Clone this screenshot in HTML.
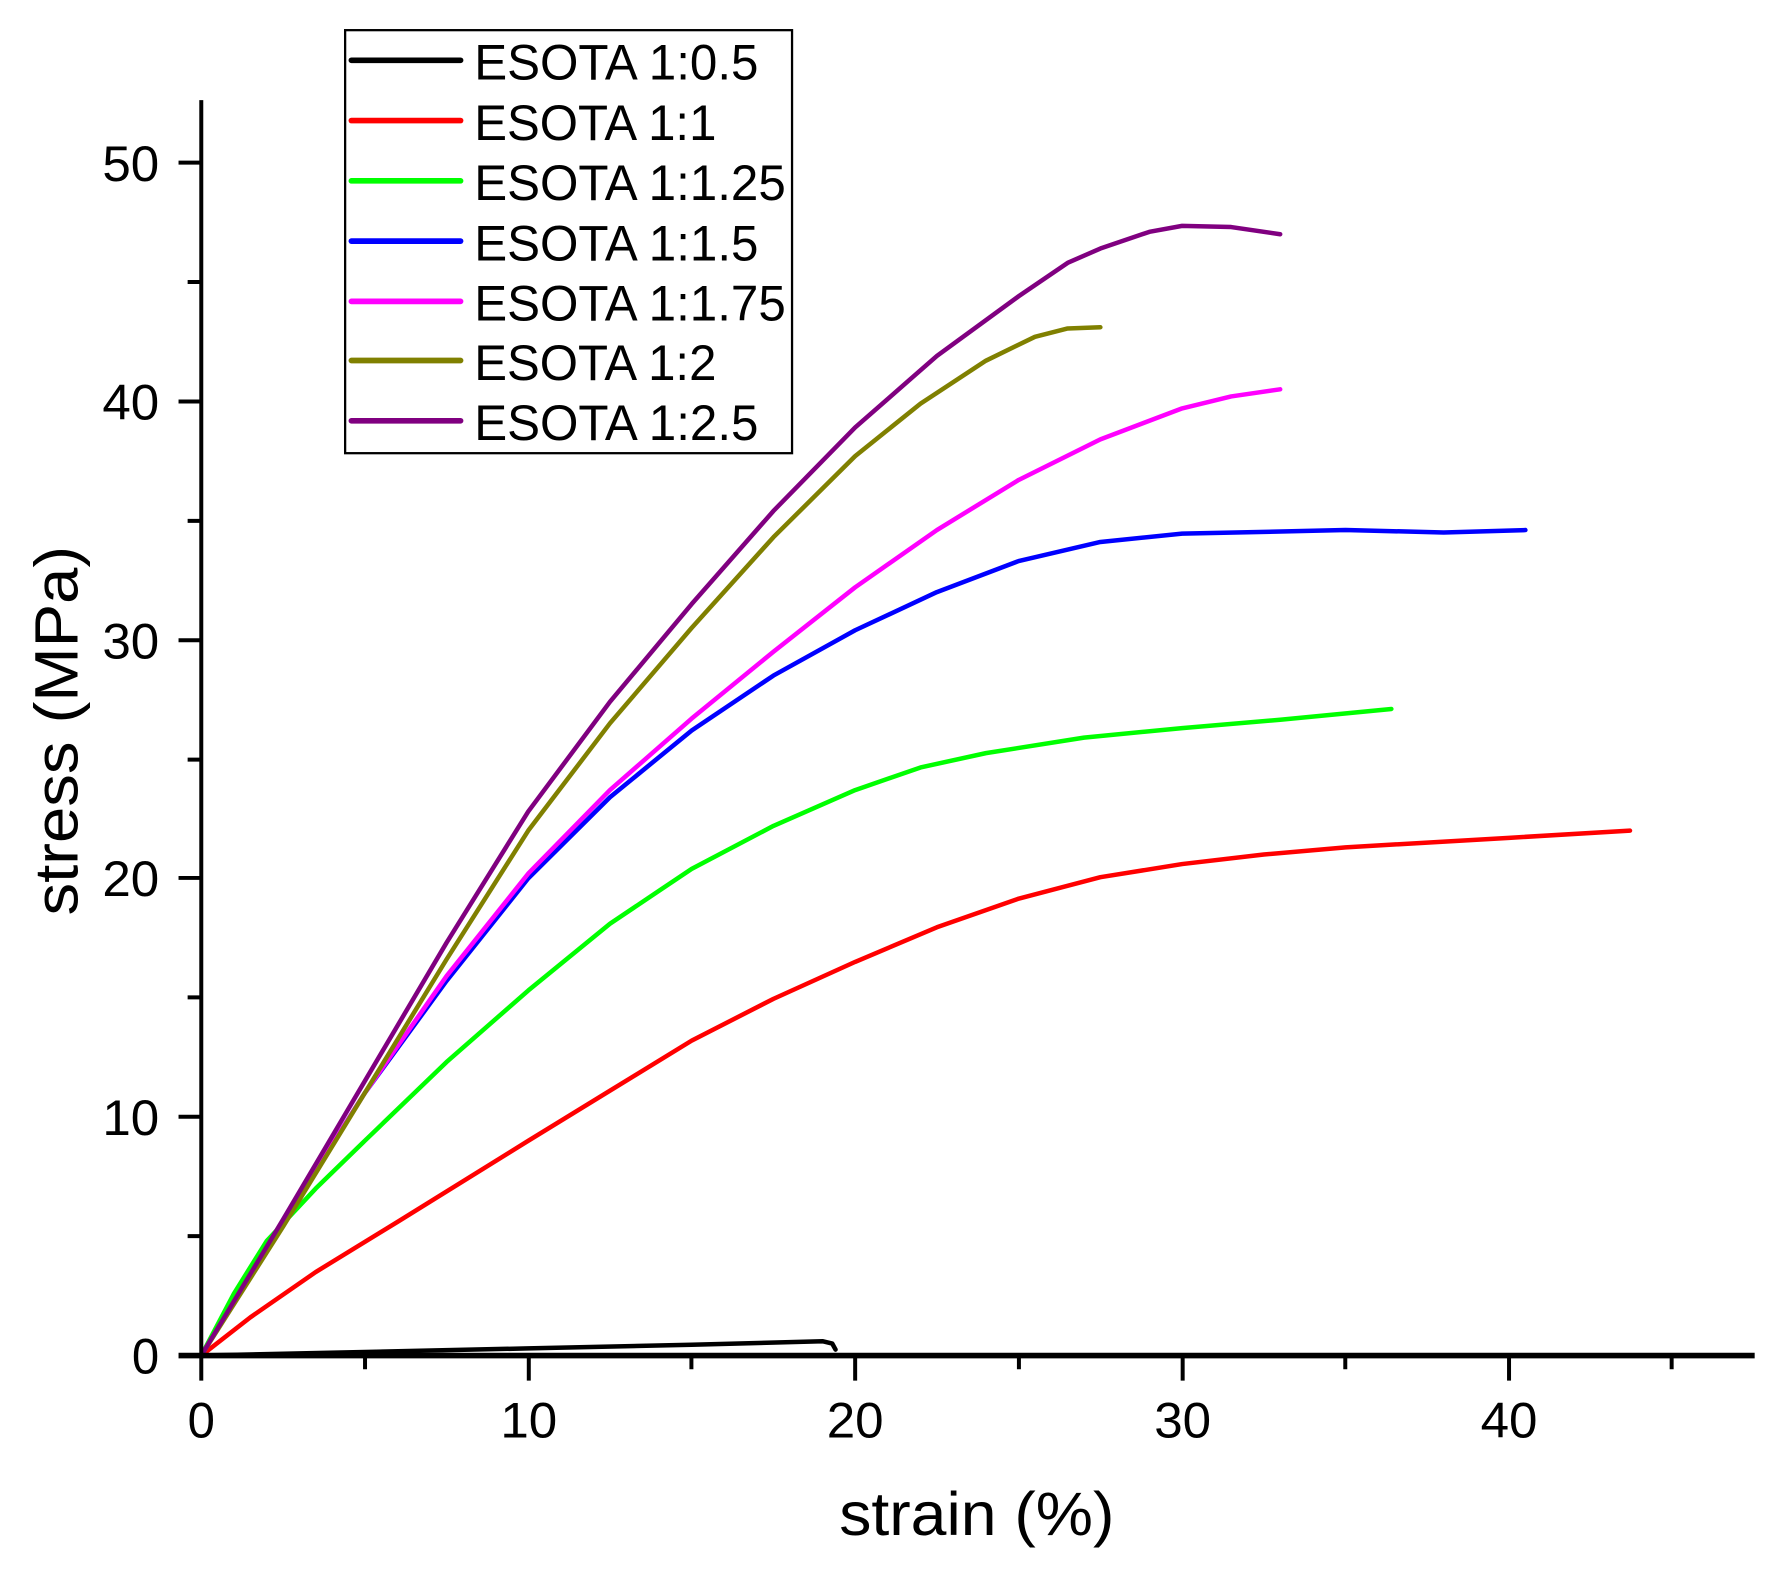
<!DOCTYPE html>
<html><head><style>html,body{margin:0;padding:0;background:#fff}svg{display:block}</style></head>
<body>
<svg width="1774" height="1573" viewBox="0 0 1560 1383.2" xmlns="http://www.w3.org/2000/svg" font-family="Liberation Sans, Arial, sans-serif">
<g transform="translate(177,1192) scale(28.75,-20.98)" fill="none" stroke-width="4.5" stroke-linejoin="round" stroke-linecap="round">
<polyline vector-effect="non-scaling-stroke" stroke="#000" points="0,0 5,0.15 10,0.3 15,0.45 19,0.6 19.3,0.5 19.4,0.25"/>
<polyline vector-effect="non-scaling-stroke" stroke="#ff0000" points="0,0 1.5,1.6 3.5,3.5 6,5.6 10,9 12.5,11.1 15,13.2 17.5,14.95 20,16.5 22.5,17.95 25,19.15 27.5,20.05 30,20.6 32.5,21 35,21.3 40,21.7 43.7,22"/>
<polyline vector-effect="non-scaling-stroke" stroke="#00ff00" points="0,0 1,2.6 2,4.8 3.5,7 5,9 7.5,12.3 10,15.3 12.5,18.1 15,20.4 17.5,22.2 20,23.7 22,24.65 24,25.25 27,25.9 30,26.3 33,26.65 36.4,27.1"/>
<polyline vector-effect="non-scaling-stroke" stroke="#0000ff" points="0,0 2.5,5.6 5,11 7.5,15.7 10,20 12.5,23.4 15,26.2 17.5,28.5 20,30.4 22.5,32 25,33.3 27.5,34.1 30,34.45 35,34.6 38,34.5 40.5,34.6"/>
<polyline vector-effect="non-scaling-stroke" stroke="#ff00ff" points="0,0 2.5,5.6 5,11 7.5,15.9 10,20.2 12.5,23.7 15,26.7 17.5,29.5 20,32.2 22.5,34.6 25,36.7 27.5,38.4 30,39.7 31.5,40.2 33,40.5"/>
<polyline vector-effect="non-scaling-stroke" stroke="#808000" points="0,0 2.5,5.4 5,11 7.5,16.6 10,22 12.5,26.5 15,30.5 17.5,34.3 20,37.7 22,39.9 24,41.7 25.5,42.7 26.5,43.05 27.5,43.1"/>
<polyline vector-effect="non-scaling-stroke" stroke="#800080" points="0,0 2.5,5.7 5,11.5 7.5,17.3 10,22.8 12.5,27.4 15,31.5 17.5,35.4 20,38.9 22.5,41.9 25,44.4 26.5,45.8 27.5,46.4 29,47.1 30,47.35 31.5,47.3 33,47"/>
</g>
<g stroke="#000" stroke-width="3.5" fill="none">
<line x1="177" y1="88" x2="177" y2="1194"/>
<line x1="157" y1="1192" x2="1543" y2="1192" stroke-width="5"/>
<path d="M177,1192v22 M465,1192v22 M752,1192v22 M1040,1192v22 M1327,1192v22 M321,1192v12 M608,1192v12 M896,1192v12 M1183,1192v12 M1470,1192v12"/>
<path d="M157,143h20 M157,353h20 M157,563h20 M157,772h20 M157,982h20 M165,248h12 M165,458h12 M165,668h12 M165,877h12 M165,1087h12"/>
</g>
<g font-size="44" text-anchor="middle" fill="#000">
<text x="177" y="1264" textLength="24" lengthAdjust="spacingAndGlyphs">0</text>
<text x="465" y="1264" textLength="50" lengthAdjust="spacingAndGlyphs">10</text>
<text x="752" y="1264" textLength="50" lengthAdjust="spacingAndGlyphs">20</text>
<text x="1040" y="1264" textLength="50" lengthAdjust="spacingAndGlyphs">30</text>
<text x="1327" y="1264" textLength="50" lengthAdjust="spacingAndGlyphs">40</text>
</g>
<g font-size="44" fill="#000">
<text x="116" y="1208" textLength="24" lengthAdjust="spacingAndGlyphs">0</text>
<text x="90" y="998" textLength="50" lengthAdjust="spacingAndGlyphs">10</text>
<text x="90" y="788" textLength="50" lengthAdjust="spacingAndGlyphs">20</text>
<text x="90" y="579" textLength="50" lengthAdjust="spacingAndGlyphs">30</text>
<text x="90" y="369" textLength="50" lengthAdjust="spacingAndGlyphs">40</text>
<text x="90" y="159" textLength="50" lengthAdjust="spacingAndGlyphs">50</text>
</g>
<text x="738" y="1350" font-size="54" textLength="242" lengthAdjust="spacingAndGlyphs">strain (%)</text>
<text transform="translate(68,805) rotate(-90)" font-size="54" textLength="325" lengthAdjust="spacingAndGlyphs">stress (MPa)</text>
<rect x="303.5" y="26.5" width="393" height="372" fill="#fff" stroke="#000" stroke-width="2"/>
<g stroke-width="5" stroke-linecap="round">
<line x1="309" y1="53" x2="405" y2="53" stroke="#000"/>
<line x1="309" y1="106" x2="405" y2="106" stroke="#ff0000"/>
<line x1="309" y1="159" x2="405" y2="159" stroke="#00ff00"/>
<line x1="309" y1="212" x2="405" y2="212" stroke="#0000ff"/>
<line x1="309" y1="265" x2="405" y2="265" stroke="#ff00ff"/>
<line x1="309" y1="317" x2="405" y2="317" stroke="#808000"/>
<line x1="309" y1="370" x2="405" y2="370" stroke="#800080"/>
</g>
<g font-size="44" fill="#000" lengthAdjust="spacingAndGlyphs">
<text x="417" y="70" textLength="250" lengthAdjust="spacingAndGlyphs">ESOTA 1:0.5</text>
<text x="417" y="123" textLength="213" lengthAdjust="spacingAndGlyphs">ESOTA 1:1</text>
<text x="417" y="176" textLength="274" lengthAdjust="spacingAndGlyphs">ESOTA 1:1.25</text>
<text x="417" y="229" textLength="250" lengthAdjust="spacingAndGlyphs">ESOTA 1:1.5</text>
<text x="417" y="282" textLength="274" lengthAdjust="spacingAndGlyphs">ESOTA 1:1.75</text>
<text x="417" y="334" textLength="213" lengthAdjust="spacingAndGlyphs">ESOTA 1:2</text>
<text x="417" y="387" textLength="250" lengthAdjust="spacingAndGlyphs">ESOTA 1:2.5</text>
</g>
</svg>
</body></html>
